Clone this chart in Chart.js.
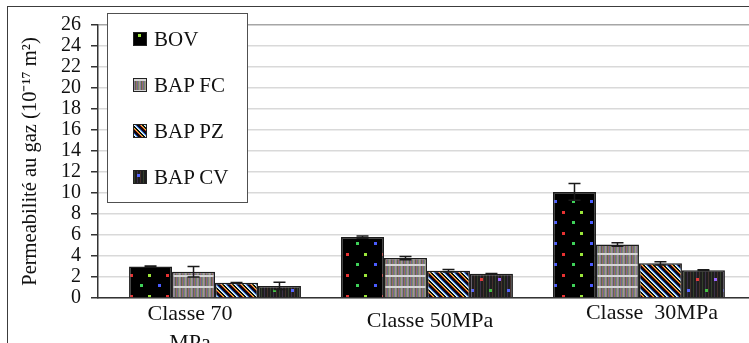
<!DOCTYPE html>
<html>
<head>
<meta charset="utf-8">
<script src="https://cdn.jsdelivr.net/npm/chart.js@4.4.1/dist/chart.umd.min.js"></script>
<style>
  html, body { margin: 0; padding: 0; background: #fff; }
  body { width: 749px; height: 343px; overflow: hidden; position: relative; font-family: "Liberation Serif", serif; }
  #frame { position: absolute; left: 7px; top: 6px; width: 800px; height: 400px; border: 1.5px solid #3c3c3c; }
  #chart { position: absolute; left: 0; top: 0; }
  #legend { position: absolute; left: 107px; top: 13px; width: 141px; height: 190px; box-sizing: border-box;
            border: 1px solid #505050; background: #fff; padding-top: 2px; }
  .item { height: 46px; display: flex; align-items: center; font-size: 21px; color: #111; }
  .item canvas { margin-left: 25px; margin-right: 7px; border: 1px solid #222; }
</style>
</head>
<body>
<div id="frame"></div>
<canvas id="chart" width="760" height="380"></canvas>
<div id="legend"></div>
<script>
// --- data ---
const categories = [['Classe 70', 'MPa'], 'Classe 50MPa', 'Classe  30MPa'];
const seriesNames = ['BOV', 'BAP FC', 'BAP PZ', 'BAP CV'];
const bov   = [3.0, 5.8, 10.1];
const bapFC = [2.5, 3.8, 5.1];
const bapPZ = [1.45, 2.6, 3.3];
const bapCV = [1.15, 2.3, 2.65];
const bovErr   = [0.05, 0.1, 0.8];
const bapFCErr = [0.5, 0.15, 0.17];
const bapPZErr = [0.03, 0.12, 0.15];
const bapCVErr = [0.35, 0.04, 0.04];
const yTicks = [0, 2, 4, 6, 8, 10, 12, 14, 16, 18, 20, 22, 24, 26];

// --- layout / style ---
const SERIF = '"Liberation Serif", "Times New Roman", serif';
const CANVAS_H = 380;
const PLOT_LEFT = 98, PLOT_TOP = 25, PLOT_BOTTOM = 298;
const X_MIN = -0.552, X_MAX = 2.571;
const labelShift = [-0.118, 0.014, 0.061];      // label offset from group centre
const labelLineHeights = [29, 43, 27];          // px, sets each label's vertical place

// --- fill patterns ---
function makePattern(w, h, draw) {
  const c = document.createElement('canvas');
  c.width = w; c.height = h;
  const g = c.getContext('2d');
  draw(g, w, h);
  return g.createPattern(c, 'repeat');
}
function dot(g, x, y, col) { g.fillStyle = col; g.fillRect(x, y, 3, 3); }

const patBOV = makePattern(36, 21, (g, w, h) => {
  g.fillStyle = '#000'; g.fillRect(0, 0, w, h);
  dot(g, 4, 1, '#9be53a'); dot(g, 14, 11, '#4a5cff');
  dot(g, 22, 1, '#e83232'); dot(g, 32, 11, '#3fd25a');
});
const patFC = makePattern(6, 11, (g, w, h) => {
  const cols = ['#8c7c9c', '#5c6c4a', '#9c6a6a', '#6a6c90', '#7c8c64', '#a49494'];
  cols.forEach((c, i) => { g.fillStyle = c; g.fillRect(i, 0, 1, h); });
  g.fillStyle = '#d6d6d6'; g.fillRect(0, 0, w, 2);
});
const patPZ = makePattern(10, 10, (g, w, h) => {
  const cols = ['#f4f4f4', '#8fd8f0', '#2840c0', '#0c0c0c', '#0c0c0c', '#0c0c0c',
                '#d83030', '#e8d840', '#0c0c0c', '#0c0c0c'];
  for (let x = 0; x < w; x++)
    for (let y = 0; y < h; y++) {
      g.fillStyle = cols[((x - y) % 10 + 10) % 10];
      g.fillRect(x, y, 1, 1);
    }
});
const patCV = makePattern(36, 22, (g, w, h) => {
  g.fillStyle = '#1e1e1e'; g.fillRect(0, 0, w, h);
  const stripes = ['#34402c', '#3c3048', '#44302c'];
  for (let x = 0; x < w; x += 3) { g.fillStyle = stripes[(x / 3) % 3]; g.fillRect(x, 0, 1, h); }
  dot(g, 3, 3, '#5566ff'); dot(g, 12, 14, '#e03a3a');
  dot(g, 21, 3, '#44c044'); dot(g, 30, 14, '#9a66ff');
});
const patterns = [patBOV, patFC, patPZ, patCV];

// --- error bars drawn through the y scale ---
const allValues = [bov, bapFC, bapPZ, bapCV];
const allErrors = [bovErr, bapFCErr, bapPZErr, bapCVErr];
const errorBars = {
  id: 'errorBars',
  afterDatasetsDraw(chart) {
    const { ctx } = chart;
    const y = chart.scales.y;
    ctx.save();
    ctx.strokeStyle = '#1a1a1a';
    ctx.lineWidth = 1.5;
    allValues.forEach((vals, di) => {
      chart.getDatasetMeta(di).data.forEach((bar, i) => {
        const top = y.getPixelForValue(vals[i] + allErrors[di][i]);
        const bot = y.getPixelForValue(vals[i] - allErrors[di][i]);
        ctx.beginPath();
        ctx.moveTo(bar.x, top); ctx.lineTo(bar.x, bot);
        ctx.moveTo(bar.x - 6, top); ctx.lineTo(bar.x + 6, top);
        ctx.moveTo(bar.x - 6, bot); ctx.lineTo(bar.x + 6, bot);
        ctx.stroke();
      });
    });
    ctx.restore();
  }
};

new Chart(document.getElementById('chart'), {
  type: 'bar',
  data: {
    datasets: allValues.map((vals, di) => ({
      label: seriesNames[di],
      data: vals.map((v, i) => ({ x: i, y: v })),
      backgroundColor: patterns[di],
      borderColor: '#1c1c1c',
      borderWidth: 1.5,
      barPercentage: 1.0,
      categoryPercentage: 0.811
    }))
  },
  options: {
    responsive: false,
    animation: false,
    layout: { padding: { top: PLOT_TOP, left: 0, right: 0, bottom: 0 } },
    plugins: { legend: { display: false }, tooltip: { enabled: false } },
    scales: {
      x: {
        type: 'linear',
        offset: false,
        min: X_MIN, max: X_MAX,
        afterBuildTicks: s => { s.ticks = categories.map((_, i) => ({ value: i + labelShift[i] })); },
        afterFit: s => { s.height = CANVAS_H - PLOT_BOTTOM; },
        grid: { display: false, drawTicks: false },
        border: { color: '#333', width: 1.5 },
        ticks: {
          padding: 2, color: '#111', maxRotation: 0, autoSkip: false,
          font: c => ({ family: SERIF, size: 22, lineHeight: labelLineHeights[c.index] + 'px' }),
          callback: (v, i) => categories[i]
        }
      },
      y: {
        min: 0, max: 26,
        afterBuildTicks: s => { s.ticks = yTicks.map(v => ({ value: v })); },
        afterFit: s => { s.width = PLOT_LEFT; },
        grid: {
          color: c => c.tick && c.tick.value === 26 ? '#a6a6a6' : '#d9d9d9',
          lineWidth: 1.5, tickLength: 7, tickColor: '#333', tickWidth: 1.5
        },
        border: { color: '#333', width: 1.5 },
        ticks: { padding: 10, color: '#111', autoSkip: false, font: { family: SERIF, size: 20, lineHeight: 1 } },
        title: {
          display: true, text: 'Permeabilité au gaz (10⁻¹⁷ m²)', color: '#111',
          font: { family: SERIF, size: 20.5 }, padding: { top: 18, bottom: 0 }
        }
      }
    }
  },
  plugins: [errorBars]
});

// --- legend box ---
const legendEl = document.getElementById('legend');
seriesNames.forEach((name, i) => {
  const row = document.createElement('div');
  row.className = 'item';
  const sw = document.createElement('canvas');
  sw.width = 12; sw.height = 12;
  const g = sw.getContext('2d');
  g.fillStyle = patterns[i];
  g.fillRect(0, 0, 12, 12);
  row.appendChild(sw);
  row.appendChild(document.createTextNode(name));
  legendEl.appendChild(row);
});
</script>
</body>
</html>
